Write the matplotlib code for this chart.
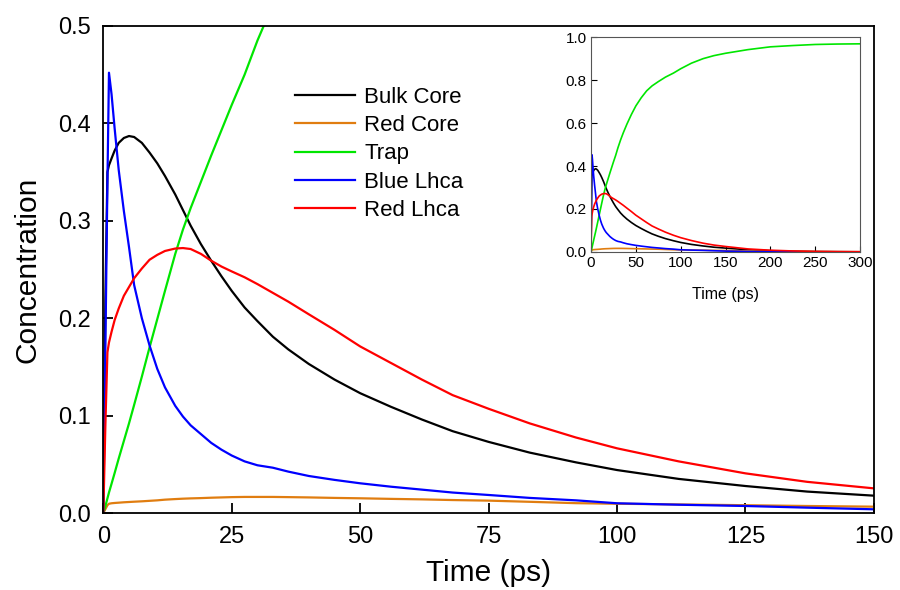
import numpy as np
import matplotlib
matplotlib.use("Agg")
import matplotlib.pyplot as plt

plt.rcParams['font.family'] = ['Liberation Sans', 'DejaVu Sans']

# time axis (ps), shared by all series
time_ps = [0, 0.4, 0.8, 1.1, 1.6, 2.2, 3, 4, 5, 6, 7.5, 9, 10.5, 12, 14, 15.5,
           17, 19, 21, 23, 25, 27.5, 30, 33, 36, 40, 45, 50, 56, 62, 68, 75,
           83, 92, 100, 112, 125, 137, 150, 175, 200, 225, 250, 275, 300]

bulk_core = [0, 0.22, 0.35, 0.357, 0.364, 0.372, 0.38, 0.385, 0.387, 0.386,
             0.38, 0.37, 0.359, 0.346, 0.327, 0.311, 0.295, 0.276, 0.259,
             0.243, 0.228, 0.211, 0.197, 0.181, 0.168, 0.153, 0.137, 0.123,
             0.109, 0.096, 0.084, 0.073, 0.062, 0.052, 0.0441, 0.035, 0.0277,
             0.022, 0.0178, 0.010, 0.0055, 0.003, 0.0017, 0.001, 0.0006]

red_core = [0, 0.004, 0.008, 0.0095, 0.010, 0.0103, 0.0106, 0.011, 0.0113,
            0.0116, 0.012, 0.0125, 0.013, 0.0137, 0.0143, 0.0147, 0.015,
            0.0153, 0.0157, 0.016, 0.0163, 0.0165, 0.0165, 0.0165, 0.0163,
            0.016, 0.0155, 0.0151, 0.0145, 0.014, 0.0133, 0.0127, 0.0115,
            0.0101, 0.0095, 0.0088, 0.008, 0.0072, 0.0065, 0.0045, 0.003,
            0.002, 0.0013, 0.0009, 0.0006]

trap = [0, 0.007, 0.015, 0.021, 0.03, 0.041, 0.056, 0.074, 0.092, 0.111,
        0.14, 0.17, 0.199, 0.228, 0.266, 0.291, 0.313, 0.34, 0.367, 0.393,
        0.419, 0.45, 0.485, 0.522, 0.555, 0.595, 0.64, 0.68, 0.718, 0.75,
        0.773, 0.793, 0.814, 0.833, 0.853, 0.879, 0.9, 0.914, 0.925, 0.942,
        0.955, 0.961, 0.966, 0.968, 0.969]

blue_lhca = [0, 0.17, 0.34, 0.452, 0.43, 0.395, 0.352, 0.31, 0.273, 0.234,
             0.2, 0.172, 0.148, 0.129, 0.11, 0.099, 0.09, 0.081, 0.072, 0.065,
             0.059, 0.053, 0.049, 0.0465, 0.0425, 0.038, 0.034, 0.0305, 0.027,
             0.024, 0.021, 0.0185, 0.0155, 0.013, 0.010, 0.0085, 0.0072,
             0.0055, 0.0038, 0.002, 0.001, 0.0005, 0.0003, 0.0002, 0.0001]

red_lhca = [0, 0.09, 0.165, 0.175, 0.186, 0.198, 0.21, 0.223, 0.232, 0.241,
            0.251, 0.26, 0.265, 0.269, 0.2715, 0.272, 0.271, 0.266, 0.259,
            0.253, 0.248, 0.242, 0.235, 0.226, 0.217, 0.204, 0.188, 0.171,
            0.154, 0.137, 0.121, 0.107, 0.092, 0.0775, 0.0664, 0.053, 0.0407,
            0.032, 0.0253, 0.014, 0.008, 0.0045, 0.0025, 0.0015, 0.001]

labels = ['Bulk Core', 'Red Core', 'Trap', 'Blue Lhca', 'Red Lhca']
colors = ['#000000', '#E07D10', '#00E600', '#0000FF', '#FF0000']
series = [bulk_core, red_core, trap, blue_lhca, red_lhca]

main_xticks = [0, 25, 50, 75, 100, 125, 150]
main_yticks = [0.0, 0.1, 0.2, 0.3, 0.4, 0.5]
inset_xticks = [0, 50, 100, 150, 200, 250, 300]
inset_yticks = [0.0, 0.2, 0.4, 0.6, 0.8, 1.0]

t = np.array(time_ps)

fig = plt.figure(figsize=(9, 5.9), dpi=100)
ax = fig.add_axes([0.1148, 0.1305, 0.8562, 0.8255])

for y, c, lab in zip(series, colors, labels):
    ax.plot(t, y, color=c, lw=1.6, label=lab)

ax.set_xlim(0, 150)
ax.set_ylim(0, 0.5)
ax.set_xticks(main_xticks)
ax.set_yticks(main_yticks)
ax.set_yticklabels([f'{v:.1f}' for v in main_yticks])
ax.tick_params(direction='in', length=7, width=1.3, labelsize=17, pad=9)
for s in ax.spines.values():
    s.set_linewidth(1.3)
ax.set_xlabel('Time (ps)', fontsize=21.5, labelpad=8)
ax.set_ylabel('Concentration', fontsize=21.5, labelpad=12)

ax.legend(loc='upper left', bbox_to_anchor=(0.328, 0.853),
          bbox_transform=fig.transFigure, frameon=False, fontsize=16,
          handlelength=2.7, handletextpad=0.4, labelspacing=0.33,
          borderpad=0, borderaxespad=0)

# inset: full 300 ps range
ins = fig.add_axes([0.6567, 0.573, 0.2989, 0.364])
for y, c in zip(series, colors):
    ins.plot(t, y, color=c, lw=1.2)
ins.set_xlim(0, 300)
ins.set_ylim(0, 1.0)
ins.set_xticks(inset_xticks)
ins.set_yticks(inset_yticks)
ins.set_yticklabels([f'{v:.1f}' for v in inset_yticks])
ins.tick_params(direction='in', length=4, width=0.8, labelsize=11, pad=3)
for s in ins.spines.values():
    s.set_linewidth(0.8)
    s.set_color('#555555')
ins.set_xlabel('Time (ps)', fontsize=11.5, labelpad=12)

fig.savefig('out.png', dpi=100)
